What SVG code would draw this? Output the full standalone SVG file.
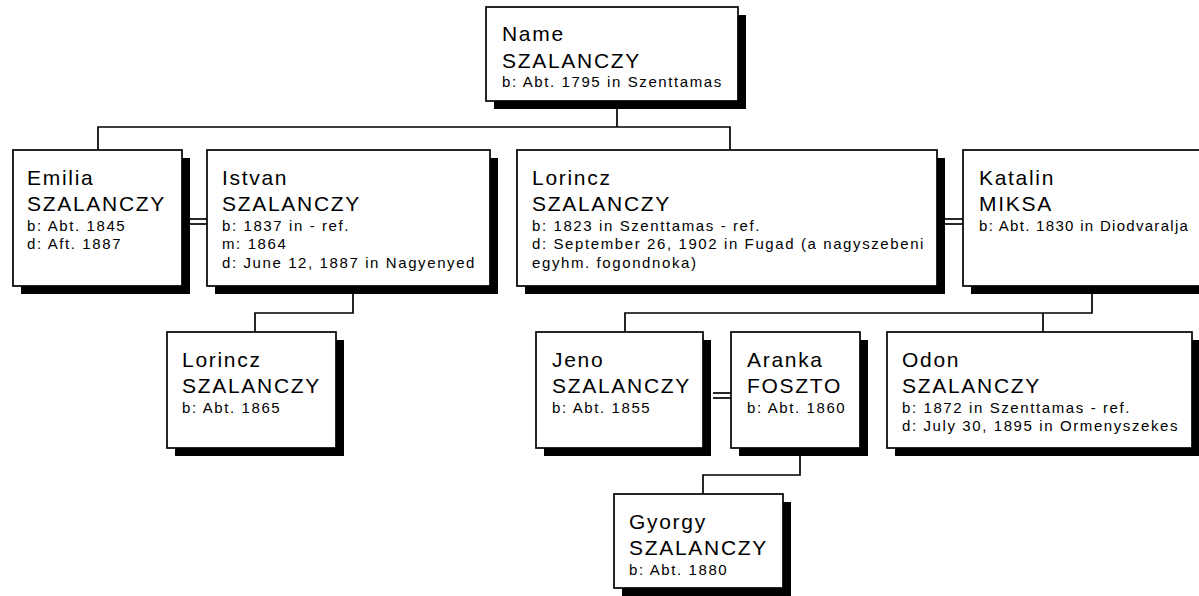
<svg xmlns="http://www.w3.org/2000/svg" width="1199" height="596" viewBox="0 0 1199 596">
<style>
.sh{fill:#000}
.bx{fill:#fff;stroke:#000;stroke-width:1.7}
.ln{fill:none;stroke:#000;stroke-width:1.7}
.nm{font-family:"Liberation Sans",Arial,sans-serif;font-size:21px;letter-spacing:1.7px;fill:#000}
.dt{font-family:"Liberation Sans",Arial,sans-serif;font-size:15px;letter-spacing:1.6px;fill:#000}
</style>
<rect width="1199" height="596" fill="#fff"/>
<g id="connectors">
<polyline class="ln" points="617,101 617,127"/>
<polyline class="ln" points="98,150 98,127 730,127 730,150"/>
<line class="ln" x1="190" y1="219" x2="207" y2="219"/>
<line class="ln" x1="190" y1="224" x2="207" y2="224"/>
<line class="ln" x1="945" y1="219" x2="963" y2="219"/>
<line class="ln" x1="945" y1="224" x2="963" y2="224"/>
<polyline class="ln" points="353,286 353,313 255,313 255,332"/>
<polyline class="ln" points="1092,286 1092,313 625,313 625,332"/>
<polyline class="ln" points="1043,313 1043,332"/>
<line class="ln" x1="713" y1="393" x2="731" y2="393"/>
<line class="ln" x1="713" y1="398" x2="731" y2="398"/>
<polyline class="ln" points="800,448 800,475 703,475 703,494"/>
</g>
<g id="n-name">
<rect class="sh" x="494" y="15" width="252" height="94"/>
<rect class="bx" x="486" y="7" width="252" height="94"/>
<text class="nm" x="502" y="41">Name</text>
<text class="nm" x="502" y="68">SZALANCZY</text>
<text class="dt" x="502" y="87">b: Abt. 1795 in Szenttamas</text>
</g>
<g id="n-emilia">
<rect class="sh" x="21" y="158" width="169" height="136"/>
<rect class="bx" x="13" y="150" width="169" height="136"/>
<text class="nm" x="27" y="185">Emilia</text>
<text class="nm" x="27" y="211">SZALANCZY</text>
<text class="dt" x="27" y="231">b: Abt. 1845</text>
<text class="dt" x="27" y="249">d: Aft. 1887</text>
</g>
<g id="n-istvan">
<rect class="sh" x="215" y="158" width="283" height="136"/>
<rect class="bx" x="207" y="150" width="283" height="136"/>
<text class="nm" x="222" y="185">Istvan</text>
<text class="nm" x="222" y="211">SZALANCZY</text>
<text class="dt" x="222" y="231">b: 1837 in - ref.</text>
<text class="dt" x="222" y="249">m: 1864</text>
<text class="dt" x="222" y="268">d: June 12, 1887 in Nagyenyed</text>
</g>
<g id="n-lorincz">
<rect class="sh" x="525" y="158" width="420" height="136"/>
<rect class="bx" x="517" y="150" width="420" height="136"/>
<text class="nm" x="532" y="185">Lorincz</text>
<text class="nm" x="532" y="211">SZALANCZY</text>
<text class="dt" x="532" y="231">b: 1823 in Szenttamas - ref.</text>
<text class="dt" x="532" y="249">d: September 26, 1902 in Fugad (a nagyszebeni</text>
<text class="dt" x="532" y="268">egyhm. fogondnoka)</text>
</g>
<g id="n-katalin">
<rect class="sh" x="971" y="158" width="260" height="136"/>
<rect class="bx" x="963" y="150" width="260" height="136"/>
<text class="nm" x="979" y="185">Katalin</text>
<text class="nm" x="979" y="211">MIKSA</text>
<text class="dt" x="979" y="231" style="letter-spacing:1.3px">b: Abt. 1830 in Diodvaralja</text>
</g>
<g id="n-lorincz2">
<rect class="sh" x="175" y="340" width="169" height="116"/>
<rect class="bx" x="167" y="332" width="169" height="116"/>
<text class="nm" x="182" y="367">Lorincz</text>
<text class="nm" x="182" y="393">SZALANCZY</text>
<text class="dt" x="182" y="413">b: Abt. 1865</text>
</g>
<g id="n-jeno">
<rect class="sh" x="544" y="340" width="167" height="116"/>
<rect class="bx" x="536" y="332" width="167" height="116"/>
<text class="nm" x="552" y="367">Jeno</text>
<text class="nm" x="552" y="393">SZALANCZY</text>
<text class="dt" x="552" y="413">b: Abt. 1855</text>
</g>
<g id="n-aranka">
<rect class="sh" x="739" y="340" width="129" height="116"/>
<rect class="bx" x="731" y="332" width="129" height="116"/>
<text class="nm" x="747" y="367">Aranka</text>
<text class="nm" x="747" y="393">FOSZTO</text>
<text class="dt" x="747" y="413">b: Abt. 1860</text>
</g>
<g id="n-odon">
<rect class="sh" x="895" y="340" width="305" height="116"/>
<rect class="bx" x="887" y="332" width="305" height="116"/>
<text class="nm" x="902" y="367">Odon</text>
<text class="nm" x="902" y="393">SZALANCZY</text>
<text class="dt" x="902" y="413">b: 1872 in Szenttamas - ref.</text>
<text class="dt" x="902" y="431">d: July 30, 1895 in Ormenyszekes</text>
</g>
<g id="n-gyorgy">
<rect class="sh" x="622" y="502" width="169" height="94"/>
<rect class="bx" x="614" y="494" width="169" height="94"/>
<text class="nm" x="629" y="529">Gyorgy</text>
<text class="nm" x="629" y="555">SZALANCZY</text>
<text class="dt" x="629" y="575">b: Abt. 1880</text>
</g>
</svg>
